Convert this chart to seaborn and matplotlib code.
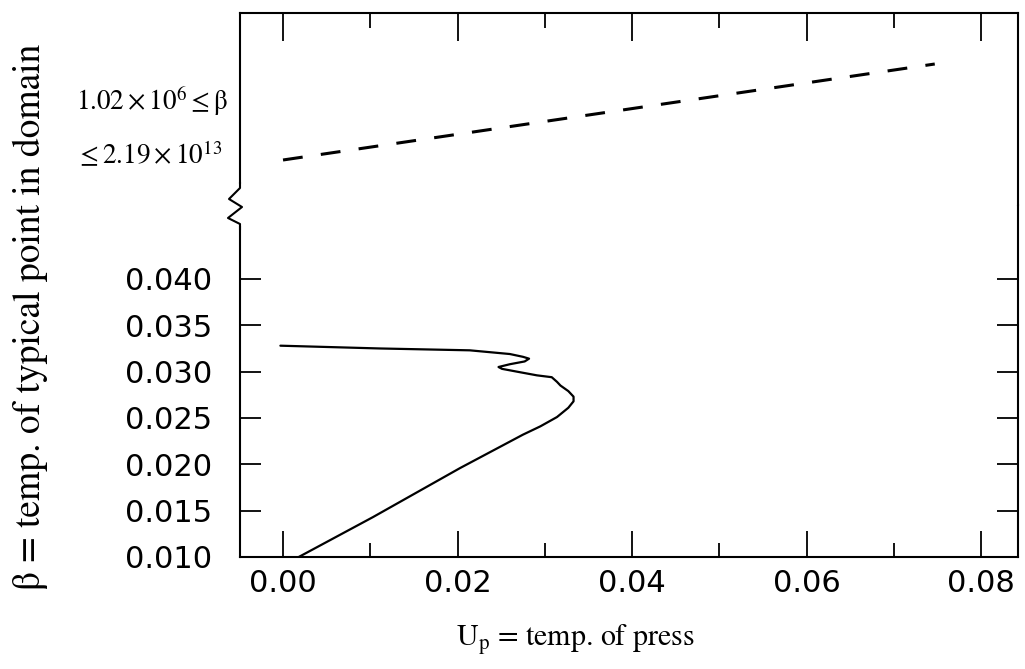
import numpy as np
import pandas as pd
import matplotlib
matplotlib.use("Agg")
import matplotlib.pyplot as plt
import seaborn as sns
from matplotlib.lines import Line2D
from matplotlib.patches import Rectangle
from matplotlib.ticker import MultipleLocator, NullLocator

# ---- data ----
# lower panel: solid curve (beta vs U_p), listed bottom to top along the curve
up_solid = [0.0018, 0.0103, 0.0203, 0.0275, 0.0295, 0.0314, 0.0327, 0.0333, 0.0333,
            0.0327, 0.0318, 0.0314, 0.0308, 0.0291, 0.0268, 0.0251, 0.0247, 0.0260,
            0.0277, 0.0282, 0.0275, 0.0260, 0.0237, 0.0214, 0.0111, -0.0003]
beta_solid = [0.0100, 0.0143, 0.0196, 0.0232, 0.0241, 0.0251, 0.0261, 0.0268, 0.0273,
              0.0279, 0.0285, 0.0289, 0.0294, 0.0296, 0.0300, 0.0303, 0.0305, 0.0308,
              0.0311, 0.0314, 0.0316, 0.0319, 0.0321, 0.0323, 0.0325, 0.0328]
# upper panel: dashed curve for the large-beta range
up_dash = [0.0, 0.0747]
beta_dash = [1.02e6, 2.19e13]

x_major = [0.00, 0.02, 0.04, 0.06, 0.08]
x_major_labels = ["0.00", "0.02", "0.04", "0.06", "0.08"]
y_ticks = [0.010, 0.015, 0.020, 0.025, 0.030, 0.035, 0.040]
y_tick_labels = ["0.010", "0.015", "0.020", "0.025", "0.030", "0.035", "0.040"]

sns.set_style("ticks")
plt.rcParams["font.family"] = ["DejaVu Sans"]
plt.rcParams["mathtext.fontset"] = "stix"
plt.rcParams["text.color"] = "black"
plt.rcParams["xtick.color"] = "black"
plt.rcParams["ytick.color"] = "black"
plt.rcParams["xtick.labelcolor"] = "black"
plt.rcParams["ytick.labelcolor"] = "black"

fig = plt.figure(figsize=(10.25, 6.69), dpi=100)
W, H = 1025.0, 669.0

def fx(px):
    return px / W

def fy(py):
    return 1 - py / H

left, right, top, brk, bottom = 240, 1018, 13, 205, 557
ax_bot = fig.add_axes([fx(left), fy(bottom), (right - left) / W, (bottom - brk) / H])
ax_top = fig.add_axes([fx(left), fy(brk), (right - left) / W, (brk - top) / H], sharex=ax_bot)

lw_spine = 1.5
for ax in (ax_bot, ax_top):
    for s in ax.spines.values():
        s.set_linewidth(lw_spine)
        s.set_color("black")

# lower panel
df_s = pd.DataFrame({"up": up_solid, "beta": beta_solid})
sns.lineplot(data=df_s, x="up", y="beta", sort=False, estimator=None, ax=ax_bot,
             color="black", linewidth=1.6)
ax_bot.lines[0].set_solid_joinstyle("round")
ax_bot.lines[0].set_solid_capstyle("round")
ax_bot.set_xlim(-0.00493, 0.08424)
ax_bot.set_ylim(0.010, 0.04798)
ax_bot.spines["top"].set_visible(False)
ax_bot.set_xticks(x_major)
ax_bot.set_xticklabels(x_major_labels)
ax_bot.xaxis.set_minor_locator(MultipleLocator(0.01))
ax_bot.set_yticks(y_ticks)
ax_bot.set_yticklabels(y_tick_labels)
ax_bot.tick_params(axis="x", which="major", direction="in", length=19, width=1.3,
                   labelsize=22, pad=9, bottom=True, top=False, colors="black")
ax_bot.tick_params(axis="x", which="minor", direction="in", length=10, width=1.3,
                   bottom=True, top=False, colors="black")
ax_bot.tick_params(axis="y", which="major", direction="in", length=15, width=1.3,
                   labelsize=22, pad=20, left=True, right=True, colors="black")
ax_bot.set_xlabel("")
ax_bot.set_ylabel("")

# upper panel
df_d = pd.DataFrame({"up": up_dash, "beta": beta_dash})
sns.lineplot(data=df_d, x="up", y="beta", sort=False, estimator=None, ax=ax_top,
             color="black", linewidth=2.2)
ax_top.lines[0].set_dashes((6.5, 6.0))
ax_top.set_yscale("log")
ax_top.set_ylim(10 ** 2.571, 10 ** 17.236)
ax_top.spines["bottom"].set_visible(False)
ax_top.yaxis.set_major_locator(NullLocator())
ax_top.yaxis.set_minor_locator(NullLocator())
ax_top.tick_params(axis="x", which="major", direction="in", length=20, width=1.3,
                   top=True, bottom=False, labeltop=False, labelbottom=False, colors="black")
ax_top.tick_params(axis="x", which="minor", direction="in", length=11, width=1.3,
                   top=True, bottom=False, colors="black")
ax_top.set_xlabel("")
ax_top.set_ylabel("")

# axis break on the left spine
fig.add_artist(Rectangle((fx(233), fy(226)), 14 / W, 42 / H, transform=fig.transFigure,
                         facecolor="white", edgecolor="none", zorder=5))
zz_x = [240, 240, 229, 242, 228, 240, 240]
zz_y = [182, 188, 199, 207, 218, 224, 230]
fig.add_artist(Line2D([fx(v) for v in zz_x], [fy(v) for v in zz_y],
                      transform=fig.transFigure, color="black", linewidth=1.5, zorder=6))

# annotations of the upper range
fig.text(fx(228), fy(101), r"$1.02 \times 10^{6} \leq \mathrm{\beta}$", ha="right", va="center",
         fontsize=19.5, family="STIXGeneral")
fig.text(fx(222), fy(155), r"$\leq 2.19 \times 10^{13}$", ha="right", va="center",
         fontsize=19.5, family="STIXGeneral")

# axis titles
fig.text(fx(30), fy(317), "β = temp. of typical point in domain", rotation=90,
         ha="center", va="center", fontsize=27, family="STIXGeneral")
fig.text(fx(575), fy(640), r"$\mathrm{U_p}$ = temp. of press", ha="center", va="center",
         fontsize=21.5, family="STIXGeneral")

fig.savefig("out.png", dpi=100)
